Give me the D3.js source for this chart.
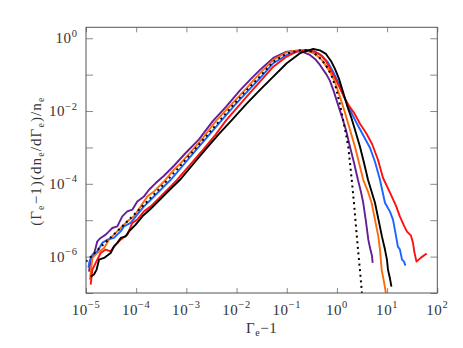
<!DOCTYPE html>
<html><head><meta charset="utf-8">
<script src="https://cdn.jsdelivr.net/npm/d3@7"></script>
<style>
html,body{margin:0;padding:0;background:#fff;}
svg{display:block;}
text{font-family:"Liberation Serif","Times New Roman",serif;fill:#333;}
</style></head>
<body>
<svg id="chart" width="463" height="348"></svg>
<script>
// ---------- data ----------
const xTicks = [1e-5,1e-4,1e-3,1e-2,1e-1,1e0,1e1,1e2];
const xTickExp = ["\u22125","\u22124","\u22123","\u22122","\u22121","0","1","2"];
const yTicks = [1e-7,1e-6,1e-5,1e-4,1e-3,1e-2,1e-1,1e0];
const yLabelTicks = [1e0,1e-2,1e-4,1e-6];
const yLabelExp = ["0","\u22122","\u22124","\u22126"];

const purple = [[1.15e-5,3.87e-7],[1.24e-5,8.28e-7],[1.44e-5,1.14e-6],[1.68e-5,2.63e-6],[1.96e-5,3.26e-6],[2.47e-5,4.02e-6],[2.87e-5,4.94e-6],[3.34e-5,6.12e-6],[4.21e-5,6.78e-6],[5.28e-5,1.28e-5],[6.65e-5,1.75e-5],[8.36e-5,1.95e-5],[1.05e-4,3.29e-5],[1.43e-4,4.51e-5],[1.80e-4,6.89e-5],[2.45e-4,1.05e-4],[3.58e-4,1.67e-4],[5.66e-4,3.14e-4],[9.37e-4,6.70e-4],[1.78e-3,1.67e-3],[3.39e-3,5.38e-3],[6.15e-3,1.30e-2],[1.17e-2,3.70e-2],[1.85e-2,7.18e-2],[2.93e-2,0.135],[5.40e-2,0.288],[9.98e-2,0.429],[0.170,0.449],[0.220,0.408],[0.290,0.348],[0.366,0.270],[0.459,0.185],[0.625,9.84e-2],[0.726,6.74e-2],[0.873,3.36e-2],[1.05,1.48e-2],[1.26,6.93e-3],[1.51,3.05e-3],[1.82,1.04e-3],[2.19,3.79e-4],[2.62,1.29e-4],[3.01,6.07e-5],[3.35,2.97e-5],[3.79,9.12e-6],[4.22,2.92e-6],[4.55,1.77e-6],[4.99,1.06e-6],[5.15,6.71e-7]];

const orange = [[1.20e-5,2.34e-7],[1.34e-5,9.21e-7],[1.68e-5,1.26e-6],[2.29e-5,1.73e-6],[2.87e-5,2.92e-6],[3.61e-5,4.02e-6],[4.91e-5,6.12e-6],[6.65e-5,9.29e-6],[9.03e-5,1.28e-5],[1.23e-4,2.40e-5],[1.66e-4,4.51e-5],[2.26e-4,6.18e-5],[3.58e-4,1.16e-4],[5.66e-4,2.44e-4],[7.71e-4,3.72e-4],[1.18e-3,7.13e-4],[2.14e-3,1.84e-3],[3.89e-3,5.38e-3],[7.40e-3,1.39e-2],[1.47e-2,3.82e-2],[2.93e-2,0.110],[5.40e-2,0.254],[9.98e-2,0.413],[0.184,0.478],[0.253,0.449],[0.338,0.388],[0.419,0.317],[0.535,0.228],[0.726,0.119],[0.914,6.32e-2],[1.15,2.45e-2],[1.45,8.93e-3],[1.82,3.05e-3],[2.29,1.04e-3],[2.75,3.79e-4],[3.35,1.29e-4],[4.16,6.07e-5],[4.92,2.97e-5],[5.73,1.04e-5],[6.67,3.60e-6],[7.21,1.56e-6],[7.78,4.40e-7],[8.65,2.06e-7],[9.48,9.66e-8]];

const blue = [[1.12e-5,4.99e-7],[1.17e-5,7.29e-7],[1.34e-5,1.14e-6],[1.68e-5,1.40e-6],[2.11e-5,2.38e-6],[2.65e-5,2.92e-6],[3.61e-5,3.26e-6],[4.91e-5,4.94e-6],[5.71e-5,6.78e-6],[7.78e-5,8.41e-6],[1.05e-4,1.42e-5],[1.43e-4,2.40e-5],[1.95e-4,3.66e-5],[3.08e-4,6.89e-5],[4.88e-4,1.29e-4],[8.97e-4,3.45e-4],[1.63e-3,9.18e-4],[2.96e-3,2.37e-3],[5.13e-3,5.74e-3],[9.31e-3,1.48e-2],[1.69e-2,3.58e-2],[2.93e-2,7.99e-2],[5.40e-2,0.206],[9.98e-2,0.348],[0.184,0.449],[0.265,0.469],[0.366,0.421],[0.504,0.327],[0.664,0.217],[0.834,0.123],[1.05,6.32e-2],[1.32,2.96e-2],[1.66,1.39e-2],[2.09,7.38e-3],[2.51,4.46e-3],[3.30,2.22e-3],[4.55,9.77e-4],[5.73,4.04e-4],[7.21,1.29e-4],[9.06,3.03e-5],[11.4,1.72e-5],[13.1,1.04e-5],[15.0,3.77e-6],[16.4,1.88e-6],[18.0,1.56e-6],[19.8,8.28e-7],[21.7,7.29e-7],[23.2,5.66e-7]];

const red = [[1.24e-5,1.71e-7],[1.34e-5,4.40e-7],[1.56e-5,6.71e-7],[1.96e-5,1.26e-6],[2.47e-5,1.56e-6],[3.10e-5,1.40e-6],[3.91e-5,2.13e-6],[4.91e-5,2.92e-6],[6.65e-5,4.02e-6],[8.36e-5,8.41e-6],[1.05e-4,1.04e-5],[1.43e-4,1.75e-5],[1.95e-4,2.40e-5],[3.08e-4,4.51e-5],[4.88e-4,8.49e-5],[6.50e-4,1.29e-4],[1.18e-3,3.34e-4],[2.14e-3,8.63e-4],[3.72e-3,2.15e-3],[6.30e-3,5.74e-3],[1.17e-2,1.53e-2],[1.85e-2,3.16e-2],[2.93e-2,6.44e-2],[5.40e-2,0.166],[9.98e-2,0.313],[0.153,0.421],[0.249,0.478],[0.349,0.435],[0.459,0.360],[0.605,0.238],[0.796,0.119],[1.05,5.57e-2],[1.38,2.45e-2],[1.74,1.39e-2],[2.19,8.93e-3],[2.88,4.46e-3],[3.79,2.52e-3],[4.99,1.26e-3],[6.58,4.58e-4],[8.26,1.47e-4],[11.4,5.70e-5],[15.0,2.51e-5],[18.0,1.25e-5],[21.7,7.08e-6],[24.9,4.85e-6],[29.9,3.77e-6],[32.7,2.42e-6],[35.1,1.29e-6],[38.5,7.29e-7],[47.3,9.39e-7],[61.4,1.21e-6]];

const black = [[1.24e-5,2.82e-7],[1.44e-5,3.21e-7],[1.63e-5,4.40e-7],[1.82e-5,8.28e-7],[2.29e-5,9.21e-7],[3.10e-5,1.26e-6],[3.61e-5,1.92e-6],[4.21e-5,2.38e-6],[4.91e-5,3.26e-6],[6.18e-5,3.60e-6],[7.20e-5,4.94e-6],[8.36e-5,6.12e-6],[9.77e-5,7.55e-6],[1.33e-4,1.28e-5],[1.95e-4,2.07e-5],[3.08e-4,3.90e-5],[4.88e-4,7.34e-5],[7.46e-4,1.29e-4],[1.36e-3,3.45e-4],[2.46e-3,9.18e-4],[4.47e-3,2.37e-3],[8.11e-3,5.74e-3],[1.54e-2,1.53e-2],[2.93e-2,3.82e-2],[5.40e-2,8.85e-2],[9.98e-2,0.206],[0.184,0.388],[0.338,0.508],[0.459,0.463],[0.605,0.371],[0.760,0.238],[0.914,0.144],[1.10,7.64e-2],[1.32,3.36e-2],[1.58,1.48e-2],[1.91,6.93e-3],[2.29,3.05e-3],[2.88,1.04e-3],[3.46,3.79e-4],[4.16,1.29e-4],[5.73,3.03e-5],[7.90,3.54e-6],[9.06,1.56e-6],[9.93,8.28e-7],[10.4,4.40e-7],[11.4,2.49e-7],[12.2,1.50e-7]];

const maxwell = [[1.00e-5,7.29e-7],[1.90e-5,1.77e-6],[4.75e-5,5.86e-6],[1.19e-4,2.07e-5],[2.98e-4,7.57e-5],[7.46e-4,3.04e-4],[1.87e-3,1.30e-3],[4.47e-3,5.21e-3],[8.11e-3,1.35e-2],[1.47e-2,3.36e-2],[2.93e-2,8.95e-2],[5.40e-2,0.227],[9.98e-2,0.383],[0.199,0.478],[0.265,0.463],[0.333,0.408],[0.419,0.327],[0.527,0.228],[0.664,0.148],[0.796,8.67e-2],[0.957,4.33e-2],[1.15,1.48e-2],[1.34,5.38e-3],[1.51,2.37e-3],[1.68,1.04e-3],[1.82,3.79e-4],[2.00,1.07e-4],[2.19,2.84e-5],[2.39,7.08e-6],[2.62,1.66e-6],[2.88,4.13e-7],[3.11,1.24e-7],[3.20,7.5e-8]];

const seriesList = [
  {data: purple, color: "#641e96", dash: null},
  {data: orange, color: "#ff6a0a", dash: null},
  {data: blue,   color: "#1a64ff", dash: null},
  {data: red,    color: "#ff1010", dash: null},
  {data: black,  color: "#000000", dash: null},
  {data: maxwell,color: "#000000", dash: "2,3.6"}
];

// ---------- layout ----------
const L = 86, R = 437.3, T = 27.3, B = 293;
const svg = d3.select("#chart");
svg.append("rect").attr("width",463).attr("height",348).attr("fill","#fff");

const x = d3.scaleLog().domain([1e-5, 1e2]).range([L, R]);
const y = d3.scaleLog().domain([1e-7, 2]).range([B, T]);

svg.append("defs").append("clipPath").attr("id","clip")
  .append("rect").attr("x",L).attr("y",T).attr("width",R-L).attr("height",B-T);

function styleAxis(g){
  g.select(".domain").remove();
  g.selectAll(".tick line").attr("stroke","#8a8a8a").attr("stroke-width",1);
  g.selectAll(".tick text").remove();
}
svg.append("g").attr("transform",`translate(0,${B})`)
  .call(d3.axisBottom(x).tickValues(xTicks).tickSize(-5).tickFormat(()=>"")).call(styleAxis);
svg.append("g").attr("transform",`translate(0,${T})`)
  .call(d3.axisTop(x).tickValues(xTicks).tickSize(-5).tickFormat(()=>"")).call(styleAxis);
svg.append("g").attr("transform",`translate(${L},0)`)
  .call(d3.axisLeft(y).tickValues(yTicks).tickSize(-7).tickFormat(()=>"")).call(styleAxis);
svg.append("g").attr("transform",`translate(${R},0)`)
  .call(d3.axisRight(y).tickValues(yTicks).tickSize(-7).tickFormat(()=>"")).call(styleAxis);

const line = d3.line().x(d=>x(d[0])).y(d=>y(d[1]));
const plot = svg.append("g").attr("clip-path","url(#clip)");
seriesList.forEach(s=>{
  plot.append("path").datum(s.data)
    .attr("d", line)
    .attr("fill","none")
    .attr("stroke", s.color)
    .attr("stroke-width", s.dash ? 2 : 1.9)
    .attr("stroke-linejoin","round")
    .attr("stroke-dasharray", s.dash);
});

svg.append("rect").attr("x",L).attr("y",T).attr("width",R-L).attr("height",B-T)
  .attr("fill","none").attr("stroke","#555").attr("stroke-width",1);

xTicks.forEach((v,i)=>{
  const t = svg.append("text").attr("x", x(v)).attr("y", 314.5)
    .attr("text-anchor","middle").attr("font-size",15).attr("letter-spacing",0.6);
  t.append("tspan").text("10");
  t.append("tspan").attr("font-size",10.5).attr("dy",-6.5).text(xTickExp[i]);
});
yLabelTicks.forEach((v,i)=>{
  const t = svg.append("text").attr("x", 77.5).attr("y", y(v)+5)
    .attr("text-anchor","end").attr("font-size",15).attr("letter-spacing",0.6);
  t.append("tspan").text("10");
  t.append("tspan").attr("font-size",10.5).attr("dy",-6.5).text(yLabelExp[i]);
});

const xt = svg.append("text").attr("x", (L+R)/2).attr("y", 332.5)
  .attr("text-anchor","middle").attr("font-size",15).attr("letter-spacing",0.6);
xt.append("tspan").text("\u0393");
xt.append("tspan").attr("font-size",10).attr("dy",3).text("e");
xt.append("tspan").attr("dy",-3).text("\u22121");

const yt = svg.append("text").attr("transform",`translate(40.5,${(T+B)/2+1}) rotate(-90)`)
  .attr("text-anchor","middle").attr("font-size",15).attr("letter-spacing",1.1);
const parts = [["(\u0393",0],["e",1],["\u22121)(dn",0],["e",1],["/d\u0393",0],["e",1],[")/n",0],["e",1]];
let prev = 0;
parts.forEach(([s,sub])=>{
  const ts = yt.append("tspan").text(s);
  const shift = sub ? 3 : 0;
  ts.attr("dy", shift - prev);
  if(sub) ts.attr("font-size",10);
  prev = shift;
});
</script>
</body></html>
